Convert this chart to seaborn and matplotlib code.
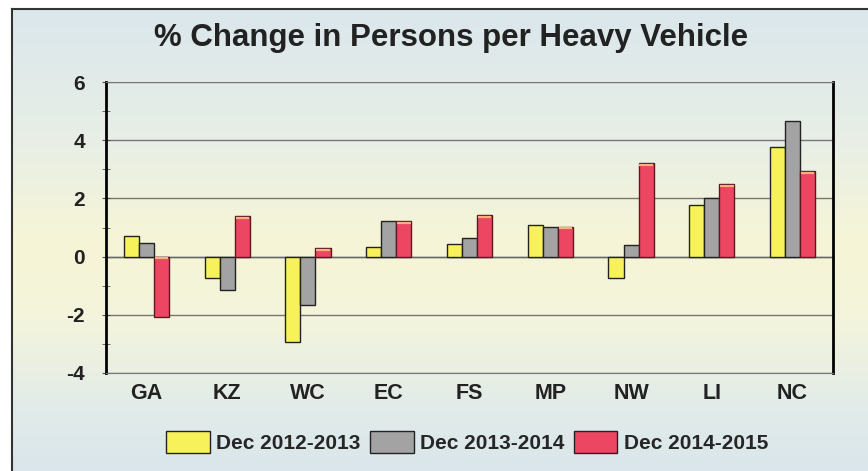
import numpy as np
import pandas as pd
import matplotlib.pyplot as plt
import seaborn as sns
from matplotlib.colors import LinearSegmentedColormap

regions = ['GA', 'KZ', 'WC', 'EC', 'FS', 'MP', 'NW', 'LI', 'NC']
dec_2012_2013 = [0.71, -0.74, -2.95, 0.32, 0.42, 1.09, -0.75, 1.78, 3.78]
dec_2013_2014 = [0.46, -1.14, -1.66, 1.23, 0.63, 1.03, 0.40, 2.03, 4.66]
dec_2014_2015 = [-2.06, 1.39, 0.29, 1.22, 1.43, 1.03, 3.22, 2.49, 2.95]
series_names = ['Dec 2012-2013', 'Dec 2013-2014', 'Dec 2014-2015']

df = pd.DataFrame({
    'region': regions * 3,
    'series': np.repeat(series_names, len(regions)),
    'value': dec_2012_2013 + dec_2013_2014 + dec_2014_2015,
})

colors = ['#f8f25a', '#a3a3a3', '#ec4663']

sns.set_style('white')
plt.rcParams['font.family'] = ['Liberation Sans', 'DejaVu Sans']
plt.rcParams['axes.unicode_minus'] = False

fig = plt.figure(figsize=(8.68, 4.71), dpi=100)
fig.patch.set_facecolor('white')

# background panel with a soft yellow band through the middle
bg = fig.add_axes([12 / 868, 0, 1 - 12 / 868, 1 - 9 / 471], zorder=-10)
cmap = LinearSegmentedColormap.from_list(
    'bg', [(0, '#dbe7ec'), (0.3, '#e9efe6'), (0.5, '#f6f5d6'),
           (0.68, '#f3f4dc'), (0.85, '#e3ece8'), (1, '#dae6ec')])
grad = np.linspace(0, 1, 200).reshape(-1, 1)
bg.imshow(grad, aspect='auto', cmap=cmap, extent=[0, 1, 0, 1])
bg.set_xticks([])
bg.set_yticks([])
for side in ['top', 'left']:
    bg.spines[side].set_color('#333333')
    bg.spines[side].set_linewidth(1.5)
for side in ['right', 'bottom']:
    bg.spines[side].set_visible(False)

ax = fig.add_axes([106 / 868, 1 - 373 / 471, (833 - 106) / 868, (373 - 82) / 471])
ax.patch.set_alpha(0)

sns.barplot(data=df, x='region', y='value', hue='series', palette=colors,
            width=0.56, edgecolor='#222222', linewidth=1.0, ax=ax,
            saturation=1, legend=True, zorder=3)

# thin orange "top face" on the red bars, as in the 3D-ish original
red_bars = ax.containers[2]
for p in red_bars:
    y_top = max(p.get_y(), p.get_y() + p.get_height()) if p.get_height() > 0 else p.get_y()
    ax.hlines(y_top - 0.06, p.get_x() + 0.01, p.get_x() + p.get_width() - 0.01,
              color='#f5b27a', linewidth=1.6, zorder=4)
    p.set_edgecolor('#5a1a22')

ax.set_ylim(-4, 6)
ax.set_xlim(-0.5, len(regions) - 0.5)
ax.set_yticks(range(-4, 7, 2))
ax.set_yticks(range(-4, 7, 1), minor=True)
ax.yaxis.grid(True, color='#777777', linewidth=1.0, zorder=0)
ax.axhline(0, color='#666666', linewidth=1.0, zorder=1)
ax.set_xticks(np.arange(len(regions)))
ax.set_xticklabels(regions)
ax.set_xticks(np.arange(-0.5, len(regions)), minor=True)
ax.tick_params(axis='x', which='major', length=0, pad=7, labelsize=15.5,
               labelcolor='#222222')
ax.tick_params(axis='x', which='minor', length=6, direction='inout', color='#777777')
ax.tick_params(axis='y', which='both', length=6, direction='inout', labelsize=15,
               pad=12, color='#555555', left=True, labelcolor='#222222')
for lab in ax.get_xticklabels() + ax.get_yticklabels():
    lab.set_fontweight('bold')
ax.set_xlabel('')
ax.set_ylabel('')

ax.spines['left'].set_color('black')
ax.spines['left'].set_linewidth(2)
ax.spines['right'].set_color('black')
ax.spines['right'].set_linewidth(2)
ax.spines['top'].set_color('#777777')
ax.spines['bottom'].set_color('#777777')

fig.text(451.5 / 868, 1 - 38 / 471, '% Change in Persons per Heavy Vehicle',
         ha='center', va='center', fontsize=22.5, fontweight='bold', color='#222222')

handles, labels = ax.get_legend_handles_labels()
ax.legend_.remove()
fig.legend(handles, labels, loc='center', bbox_to_anchor=(467 / 868, 1 - 442 / 471),
           ncol=3, frameon=False, handlelength=2.1, handleheight=1.3,
           handletextpad=0.3, columnspacing=0.45,
           prop={'weight': 'bold', 'size': 15})

fig.savefig('out.png', dpi=100)
